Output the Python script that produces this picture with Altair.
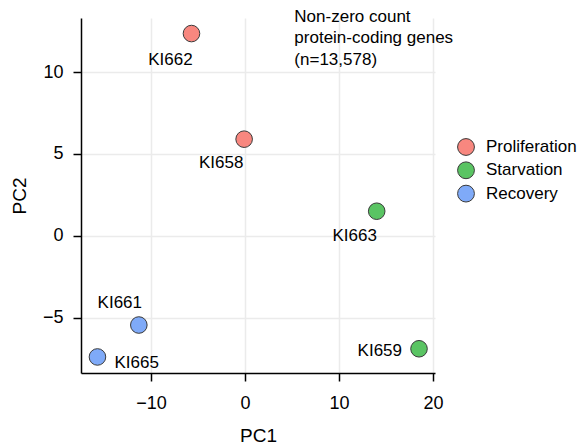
import altair as alt
import pandas as pd

samples = ["KI662", "KI658", "KI663", "KI659", "KI661", "KI665"]
pc1 = [-5.7, -0.1, 14.0, 18.5, -11.3, -15.7]
pc2 = [12.35, 5.9, 1.5, -6.9, -5.45, -7.4]
conditions = ["Proliferation", "Proliferation", "Starvation", "Starvation", "Recovery", "Recovery"]

condition_order = ["Proliferation", "Starvation", "Recovery"]
condition_colors = ["#F8877F", "#5AC463", "#7FAAF8"]

x_ticks = [-10, 0, 10, 20]
y_ticks = [-5, 0, 5, 10]
x_domain = [-17.45, 20.2]
y_domain = [-8.38, 13.3]

note_text = ["Non-zero count", "protein-coding genes", "(n=13,578)"]
note_x = [5.24]
note_y = [13.87]

df = pd.DataFrame({"PC1": pc1, "PC2": pc2, "sample": samples, "condition": conditions})
note_df = pd.DataFrame({"x": note_x, "y": note_y, "text": [note_text]})

FONT = "Liberation Sans"

x_enc = alt.X("PC1:Q", scale=alt.Scale(domain=x_domain, nice=False, zero=False),
              axis=alt.Axis(values=x_ticks, title="PC1", labelFontSize=18, titleFontSize=19,
                            tickSize=8, labelPadding=13, titlePadding=14))
y_enc = alt.Y("PC2:Q", scale=alt.Scale(domain=y_domain, nice=False, zero=False),
              axis=alt.Axis(values=y_ticks, title="PC2", labelFontSize=18, titleFontSize=19,
                            tickSize=8, labelPadding=10, titlePadding=13))

base = alt.Chart(df)

points = base.mark_circle(size=275, opacity=1, stroke="#3a3a3a", strokeWidth=1).encode(
    x=x_enc,
    y=y_enc,
    fill=alt.Fill("condition:N",
                  scale=alt.Scale(domain=condition_order, range=condition_colors),
                  legend=alt.Legend(title=None, orient="none", legendX=376, legendY=120,
                                    symbolType="circle", symbolSize=283,
                                    symbolStrokeColor="#3a3a3a", symbolStrokeWidth=1,
                                    symbolOpacity=1, labelFontSize=17, labelOffset=11,
                                    rowPadding=1.3, padding=0, labelFont=FONT)),
)

label_style = {
    "KI662": dict(dx=-21, dy=26, align="center"),
    "KI658": dict(dx=-23, dy=24, align="center"),
    "KI663": dict(dx=-22, dy=25, align="center"),
    "KI659": dict(dx=-17, dy=2, align="right"),
    "KI661": dict(dx=-19, dy=-22, align="center"),
    "KI665": dict(dx=17, dy=6, align="left"),
}

label_layers = []
for s in samples:
    st = label_style[s]
    label_layers.append(
        base.transform_filter(alt.datum.sample == s).mark_text(
            fontSize=17, font=FONT, color="#000000", baseline="middle", **st
        ).encode(x="PC1:Q", y="PC2:Q", text="sample:N")
    )

note = alt.Chart(note_df).mark_text(
    align="left", baseline="top", fontSize=17, font=FONT, lineHeight=21.7, color="#000000"
).encode(x="x:Q", y="y:Q", text="text")

chart = alt.layer(points, *label_layers, note).properties(
    width=354,
    height=355,
    padding={"left": 81, "top": 18, "right": 148, "bottom": 75},
    autosize=alt.AutoSizeParams(type="none"),
).configure_view(stroke=None).configure_axis(
    domainColor="#000000", domainWidth=1.5, tickColor="#000000", tickWidth=1.5,
    gridColor="#EBEBEB", gridWidth=1.5, labelColor="#000000", titleColor="#000000",
    labelFont=FONT, titleFont=FONT, titleFontWeight="normal",
).configure_legend(labelColor="#000000")

chart.save("out.html", embed_options={"renderer": "svg", "actions": False})
